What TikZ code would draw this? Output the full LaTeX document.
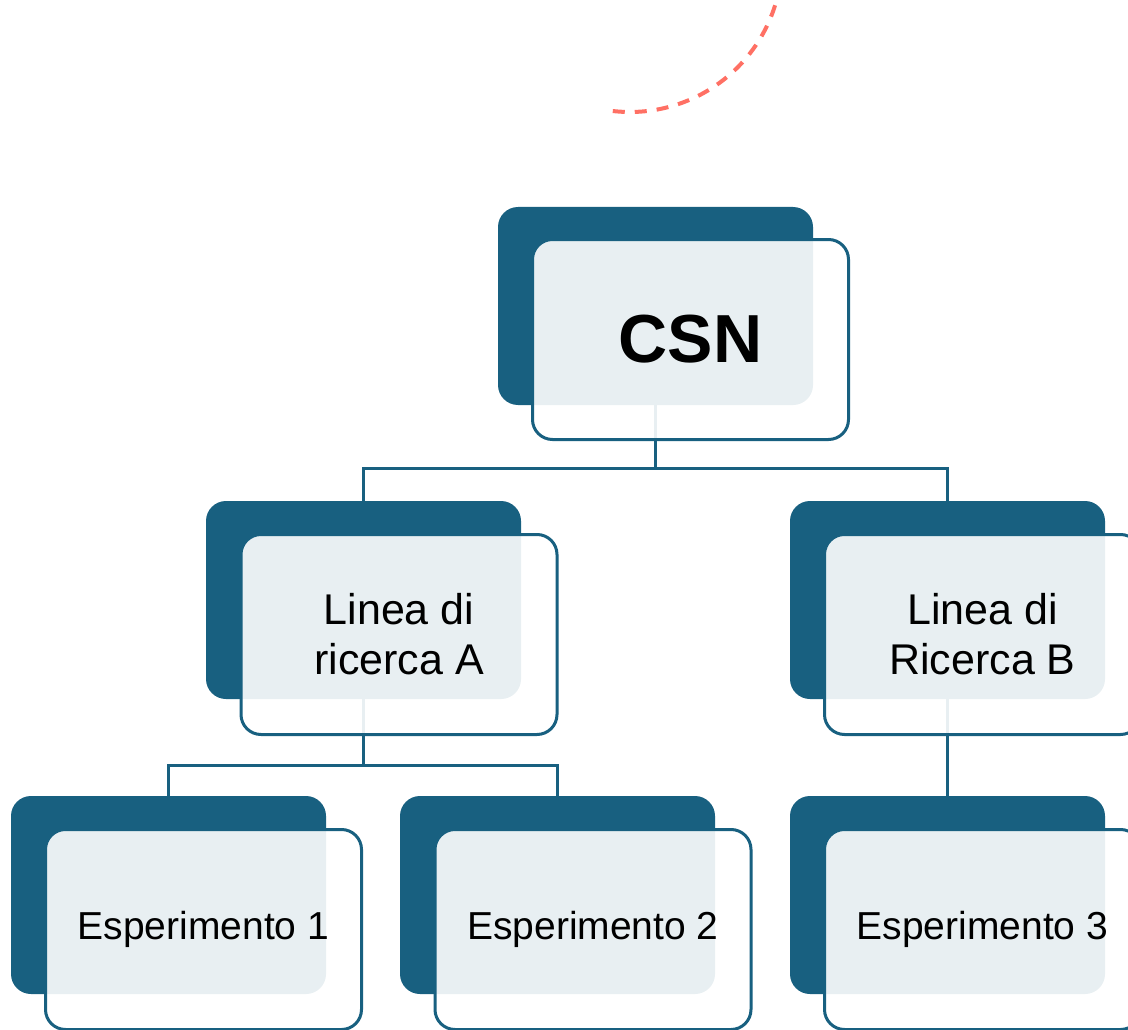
\documentclass[tikz,border=0pt]{standalone}
\usepackage{fontspec}
\setmainfont{Liberation Sans}
\definecolor{deepblue}{RGB}{24,96,128}
\definecolor{coral}{RGB}{255,112,100}
\begin{document}
\begin{tikzpicture}[x=1pt,y=-1pt,
  backbox/.style={fill=deepblue, rounded corners=20pt, minimum width=315pt,
    minimum height=198pt, inner sep=0pt},
  frontbox/.style={draw=deepblue, line width=3pt, fill=white, fill opacity=0.9,
    text opacity=1, rounded corners=20pt, minimum width=316pt,
    minimum height=200pt, inner sep=0pt, align=center},
  link/.style={draw=deepblue, line width=3pt},
  toptext/.style={font=\fontsize{68}{80}\selectfont\bfseries},
  midtext/.style={font=\fontsize{43}{50}\selectfont},
  lowtext/.style={font=\fontsize{39}{46}\selectfont}]
  % canvas
  \fill[white] (0,0) rectangle (1128,1030);
  \clip (0,0) rectangle (1128,1030);

  % decorative dashed arc
  \draw[coral, line width=4pt, dash pattern=on 12pt off 10pt]
    plot[domain=96.5:5, samples=80] ({630+152*cos(\x)},{-40+152*sin(\x)});

  % dark back plates
  \node[backbox] (csnback) at (655.5,306) {};
  \node[backbox] (laback)  at (363.5,600) {};
  \node[backbox] (lbback)  at (947.5,600) {};
  \node[backbox] (e1back)  at (168.5,895) {};
  \node[backbox] (e2back)  at (557.5,895) {};
  \node[backbox] (e3back)  at (947.5,895) {};

  % connectors
  \coordinate (j1) at (655.5,468);
  \coordinate (j2) at (363.5,765);
  \draw[link] (csnback.south) -- (j1);
  \draw[link] (laback.north) |- (j1) -| (lbback.north);
  \draw[link] (laback.south) -- (j2);
  \draw[link] (e1back.north) |- (j2) -| (e2back.north);
  \draw[link] (lbback.south) -- (e3back.north);

  % translucent front cards with labels
  \node[frontbox, toptext] (csn) at (690.5,339.5) {CSN};
  \node[frontbox, midtext] (la)  at (399,634.5) {Linea di\\ricerca A};
  \node[frontbox, midtext] (lb)  at (982.5,634.5) {Linea di\\Ricerca B};
  \node[frontbox, lowtext] (e1)  at (203.5,929.5) {Esperimento 1};
  \node[frontbox, lowtext] (e2)  at (593,929.5) {Esperimento 2};
  \node[frontbox, lowtext] (e3)  at (982.5,929.5) {Esperimento 3};
\end{tikzpicture}
\end{document}
